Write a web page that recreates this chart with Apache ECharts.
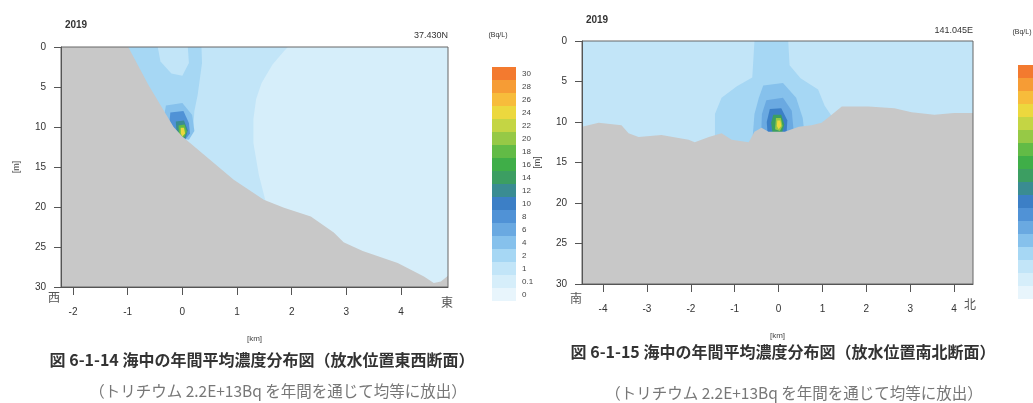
<!DOCTYPE html>
<html>
<head>
<meta charset="utf-8">
<script src="https://cdn.jsdelivr.net/npm/echarts@6/dist/echarts.min.js"></script>
<style>
  html, body { margin: 0; padding: 0; background: #fff; }
  #main { width: 1033px; height: 403px; }
</style>
</head>
<body>
<div id="main"></div>
<script>
// concentration bins (Bq/L), lower bounds, and their colours
const levelBreaks = [0, 0.1, 1, 2, 4, 6, 8, 10, 12, 14, 16, 18, 20, 22, 24, 26, 28, 30];
const levelColors = ['#e8f5fc', '#d6eefa', '#c2e5f8', '#a6d7f4', '#86c1ec', '#6aa9e1', '#5092d6', '#3c7fc6',
  '#3a8c92', '#3c9e62', '#3fae48', '#62bb46', '#96c946', '#c4d544', '#ecd83e', '#f7bc3b', '#f69c35', '#f37a2f'];

const depthTicks = [0, 5, 10, 15, 20, 25, 30];
const ewKmTicks = [-2, -1, 0, 1, 2, 3, 4];
const nsKmTicks = [-4, -3, -2, -1, 0, 1, 2, 3, 4];

// east-west section (x km, depth m)
const ewSeabedKm = [-2.22, -0.99, -0.62, -0.16, 0, 0.94, 1.49, 1.86, 2.35, 2.77, 2.95, 3.3, 3.94, 4.42, 4.6, 4.73, 4.86];
const ewSeabedDepth = [0, 0, 4.75, 10, 11.2, 16.6, 19.1, 20.1, 21.2, 23.2, 24.4, 25.5, 27.0, 28.7, 29.5, 29.3, 28.6];
const ewLevels = [1, 0.1, 2, 1, 4, 8, 12, 18, 24];
const ewContours = [
  [[-2.3, 0], [5, 0], [5, 30], [-2.3, 30]],
  [[1.93, 0], [5, 0], [5, 30], [1.6, 30], [1.55, 20], [1.4, 16], [1.3, 12], [1.3, 9], [1.35, 6.5], [1.45, 4.5], [1.65, 2.2], [1.85, 0.6]],
  [[-1.05, 0], [0.35, 0], [0.36, 2], [0.32, 4], [0.28, 6], [0.22, 8], [0.2, 10], [0.12, 11.5], [-1.2, 12], [-1.2, 0]],
  [[-0.45, 0], [0.1, 0], [0.12, 2], [0.0, 3.6], [-0.2, 3.3], [-0.4, 1.8]],
  [[-0.3, 7.3], [0.0, 7], [0.18, 8.5], [0.22, 10.5], [0.12, 11.6], [-0.4, 11]],
  [[-0.22, 8.2], [0.02, 8], [0.12, 9.5], [0.14, 10.8], [0.05, 11.6], [-0.25, 10.5]],
  [[-0.12, 9.3], [0.03, 9.2], [0.1, 10.4], [0.06, 11.4], [-0.1, 11.2]],
  [[-0.07, 9.8], [0.04, 9.7], [0.08, 10.6], [0.03, 11.3], [-0.06, 11.1]],
  [[-0.03, 10.1], [0.03, 10.1], [0.05, 10.8], [0.0, 11.2], [-0.03, 10.8]]
];

// south-north section
const nsSeabedKm = [-4.48, -4.1, -3.58, -3.42, -3.19, -2.67, -2.05, -1.91, -1.59, -1.3, -1.07, -0.68, -0.55, -0.39, -0.23,
  0.14, 0.46, 0.75, 0.98, 1.21, 1.44, 2.05, 2.64, 3.03, 3.55, 4.0, 4.43];
const nsSeabedDepth = [10.6, 10.1, 10.4, 11.4, 11.85, 11.6, 12.2, 12.5, 11.85, 11.4, 12.2, 12.5, 11.2, 10.7, 11.2,
  11.2, 10.6, 10.4, 10.1, 9.1, 8.1, 8.1, 8.3, 8.8, 9.1, 8.9, 8.9];
const nsLevels = [1, 2, 4, 6, 10, 14, 20, 24];
const nsContours = [
  [[-4.6, 0], [4.6, 0], [4.6, 30], [-4.6, 30]],
  [[-0.55, 0], [0.22, 0], [0.25, 3], [0.5, 4.6], [0.9, 6], [1.05, 8], [1.3, 10], [1.3, 13], [-1.45, 13], [-1.45, 9], [-1.3, 7], [-0.95, 5.6], [-0.6, 4.5]],
  [[-0.35, 5.5], [0.1, 5.2], [0.4, 7], [0.55, 9.5], [0.6, 12], [-0.6, 12.5], [-0.55, 9], [-0.45, 7]],
  [[-0.28, 7.3], [0.1, 7], [0.3, 8.6], [0.35, 11.5], [-0.4, 12], [-0.38, 9]],
  [[-0.2, 8.4], [0.06, 8.3], [0.2, 9.8], [0.18, 11.5], [-0.25, 11.5], [-0.27, 10]],
  [[-0.12, 9.1], [0.06, 9.1], [0.13, 10.3], [0.08, 11.3], [-0.14, 11.3], [-0.17, 10.1]],
  [[-0.06, 9.5], [0.05, 9.5], [0.09, 10.5], [0.03, 11.1], [-0.08, 10.9]],
  [[-0.03, 9.8], [0.04, 9.8], [0.06, 10.5], [0.0, 10.9], [-0.04, 10.5]]
];

const numFont = 'Liberation Sans';
const jpFont = 'Noto Sans CJK JP';
const seabedColor = '#c8c8c8';

const pieces = levelBreaks.map((v, i) => ({
  gte: v,
  lt: i < levelBreaks.length - 1 ? levelBreaks[i + 1] : 1000,
  label: String(v),
  color: levelColors[i]
}));

function xAxisOf(idx, min, max, ticks) {
  return {
    gridIndex: idx, type: 'value', min: min, max: max, z: 10,
    name: '[km]', nameLocation: 'middle', nameGap: 48,
    nameTextStyle: { fontSize: 8, color: '#444', fontFamily: numFont },
    axisLine: { onZero: false, lineStyle: { color: '#555', width: 1 } },
    axisTick: { length: 8, customValues: ticks, lineStyle: { color: '#555' } },
    axisLabel: { customValues: ticks, margin: 20, fontSize: 10, color: '#333', fontFamily: numFont },
    splitLine: { show: false }
  };
}
function yAxisOf(idx) {
  return {
    gridIndex: idx, type: 'value', min: 0, max: 30, interval: 5, inverse: true, z: 10,
    name: '[m]', nameLocation: 'middle', nameGap: 40,
    nameTextStyle: { fontSize: 9, color: '#444', fontFamily: numFont },
    axisLine: { onZero: false, lineStyle: { color: '#555', width: 1 } },
    axisTick: { length: 7, lineStyle: { color: '#555' } },
    axisLabel: { customValues: depthTicks, margin: 15, fontSize: 10, color: '#333', fontFamily: numFont },
    splitLine: { show: false }
  };
}
function contourSeries(idx, levels, polys) {
  return {
    type: 'custom', xAxisIndex: idx, yAxisIndex: idx, clip: true, silent: true, z: 1,
    data: levels.map((lv, i) => [lv, i]),
    renderItem: function (params, api) {
      const poly = polys[api.value(1)];
      return {
        type: 'polygon',
        shape: { points: poly.map(p => api.coord(p)) },
        style: { fill: api.visual('color') }
      };
    }
  };
}
function seabedSeries(idx, km, depth) {
  return {
    type: 'line', xAxisIndex: idx, yAxisIndex: idx, silent: true, z: 2,
    symbol: 'none', smooth: false,
    lineStyle: { width: 0, color: seabedColor },
    areaStyle: { color: seabedColor, opacity: 1, origin: 'end' },
    data: km.map((x, i) => [x, depth[i]])
  };
}
function colorBar(seriesIndex, left, top) {
  return {
    type: 'piecewise', seriesIndex: seriesIndex, dimension: 0, pieces: pieces,
    left: left, top: top, orient: 'vertical',
    itemWidth: 24, itemHeight: 13, itemGap: 0, itemSymbol: 'rect',
    align: 'left', textGap: 6, selectedMode: false, hoverLink: false,
    textStyle: { fontSize: 8, color: '#444', fontFamily: numFont }
  };
}
function label(text, x, y, opts) {
  return {
    type: 'text', x: x, y: y, silent: true,
    style: Object.assign({ text: text, fill: '#333', fontSize: 10, fontFamily: numFont,
      textAlign: 'center', textVerticalAlign: 'middle' }, opts || {})
  };
}

const chart = echarts.init(document.getElementById('main'));
chart.setOption({
  backgroundColor: '#fff',
  animation: false,
  grid: [
    { left: 61, top: 47, width: 387, height: 240, show: true, borderColor: '#666', borderWidth: 1, z: 10 },
    { left: 582, top: 41, width: 391, height: 243, show: true, borderColor: '#666', borderWidth: 1, z: 10 }
  ],
  xAxis: [xAxisOf(0, -2.22, 4.86, ewKmTicks), xAxisOf(1, -4.48, 4.43, nsKmTicks)],
  yAxis: [yAxisOf(0), yAxisOf(1)],
  visualMap: [colorBar(0, 477, 52), colorBar(2, 1003, 50)],
  series: [
    contourSeries(0, ewLevels, ewContours),
    seabedSeries(0, ewSeabedKm, ewSeabedDepth),
    contourSeries(1, nsLevels, nsContours),
    seabedSeries(1, nsSeabedKm, nsSeabedDepth)
  ],
  graphic: [
    label('2019', 76, 25, { fontWeight: 'bold' }),
    label('37.430N', 448, 36, { textAlign: 'right', fontSize: 9 }),
    label('(Bq/L)', 498, 35, { fontSize: 7 }),
    label('西', 54, 297, { fontFamily: jpFont, fontSize: 12, fill: '#555' }),
    label('東', 447, 302, { fontFamily: jpFont, fontSize: 12, fill: '#555' }),
    label('2019', 597, 20, { fontWeight: 'bold' }),
    label('141.045E', 973, 31, { textAlign: 'right', fontSize: 9 }),
    label('(Bq/L)', 1022, 32, { fontSize: 7 }),
    label('南', 576, 298, { fontFamily: jpFont, fontSize: 12, fill: '#555' }),
    label('北', 970, 304, { fontFamily: jpFont, fontSize: 12, fill: '#555' }),
    label('図 6-1-14 海中の年間平均濃度分布図（放水位置東西断面）', 262, 360,
      { fontFamily: jpFont, fontSize: 16, fontWeight: 'bold', fill: '#333' }),
    label('（トリチウム 2.2E+13Bq を年間を通じて均等に放出）', 278, 391,
      { fontFamily: jpFont, fontSize: 15.5, fill: '#777' }),
    label('図 6-1-15 海中の年間平均濃度分布図（放水位置南北断面）', 783, 352,
      { fontFamily: jpFont, fontSize: 16, fontWeight: 'bold', fill: '#333' }),
    label('（トリチウム 2.2E+13Bq を年間を通じて均等に放出）', 794, 393,
      { fontFamily: jpFont, fontSize: 15.5, fill: '#777' })
  ]
});
</script>
</body>
</html>
